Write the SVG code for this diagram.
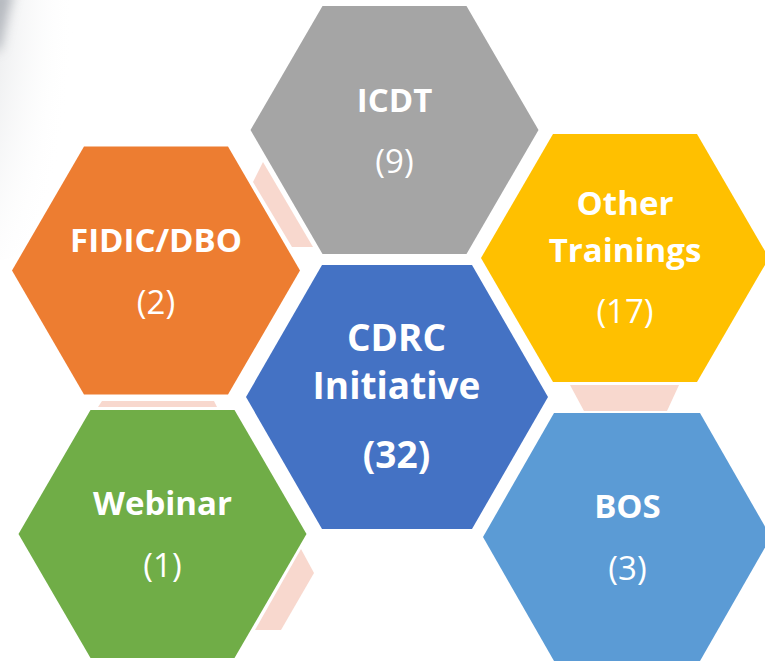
<svg xmlns="http://www.w3.org/2000/svg" width="765" height="661" viewBox="0 0 765 661">
  <defs>
    <style>
      .lbl { font-family: "Open Sans", "Liberation Sans", sans-serif; fill: #ffffff; text-anchor: middle; }
      .b { font-weight: bold; font-size: 33px; }
      .r { font-weight: normal; font-size: 33px; }
      .cb { font-weight: bold; font-size: 37px; }
      .link { fill: #F8D8CE; }
    </style>
    <radialGradient id="shade" cx="0" cy="0.3" r="1" gradientTransform="translate(0,0.3) scale(1,1) translate(0,-0.3)">
      <stop offset="0" stop-color="#b4b8be" stop-opacity="0.9"/>
      <stop offset="0.45" stop-color="#d9dbde" stop-opacity="0.55"/>
      <stop offset="1" stop-color="#ffffff" stop-opacity="0"/>
    </radialGradient>
    <filter id="blur" x="-50%" y="-50%" width="200%" height="200%">
      <feGaussianBlur stdDeviation="6"/>
    </filter>
  </defs>
  <rect x="0" y="0" width="765" height="661" fill="#ffffff"/>
  <g id="background-shade">
    <ellipse cx="0" cy="70" rx="75" ry="190" fill="url(#shade)"/>
    <path d="M -10 -10 L 14 -10 Q 6 20 0 50 L -10 50 Z" fill="#9ba0a8" opacity="0.7" filter="url(#blur)"/>
  </g>
  <g id="connectors">
    <polygon class="link" points="263,162 253,182 292,247 313,247"/>
    <polygon class="link" points="102,401 214,401 217,407 98,407"/>
    <polygon class="link" points="301,549 314,573 281,630 255,630"/>
    <polygon class="link" points="570,385 679,385 667,411 584,411"/>
  </g>
  <g id="node-icdt">
    <polygon points="250.5,130 322.5,6 466.5,6 538.5,130 466.5,254 322.5,254" fill="#A5A5A5"/>
    <text class="lbl b" x="394.5" y="112">ICDT</text>
    <text class="lbl r" x="394.5" y="173">(9)</text>
  </g>
  <g id="node-fidic">
    <polygon points="12,270.5 84,146.5 228,146.5 300,270.5 228,394.5 84,394.5" fill="#ED7D31"/>
    <text class="lbl b" x="156" y="252">FIDIC/DBO</text>
    <text class="lbl r" x="156" y="314">(2)</text>
  </g>
  <g id="node-other">
    <polygon points="481,258 553,134 697,134 769,258 697,382 553,382" fill="#FFC000"/>
    <text class="lbl b" x="625" y="215">Other</text>
    <text class="lbl b" x="625" y="262">Trainings</text>
    <text class="lbl r" x="625" y="323">(17)</text>
  </g>
  <g id="node-webinar">
    <polygon points="18.5,534 90.5,410 234.5,410 306.5,534 234.5,658 90.5,658" fill="#70AD47"/>
    <text class="lbl b" x="162.5" y="515">Webinar</text>
    <text class="lbl r" x="162.5" y="577">(1)</text>
  </g>
  <g id="node-bos">
    <polygon points="483,537 554,413 700,413 771,537 700,661 554,661" fill="#5B9BD5"/>
    <text class="lbl b" x="627.5" y="518">BOS</text>
    <text class="lbl r" x="627.5" y="580">(3)</text>
  </g>
  <g id="node-cdrc">
    <polygon points="246,397 322,265 472,265 548,397 472,529 322,529" fill="#4472C4"/>
    <text class="lbl cb" x="396.5" y="351">CDRC</text>
    <text class="lbl cb" x="396.5" y="399">Initiative</text>
    <text class="lbl cb" x="396.5" y="468">(32)</text>
  </g>
</svg>
